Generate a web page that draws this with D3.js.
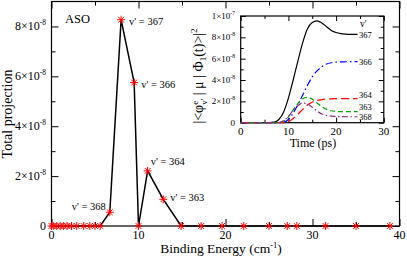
<!DOCTYPE html>
<html>
<head>
<meta charset="utf-8">
<script src="https://cdn.jsdelivr.net/npm/d3@7"></script>
<style>
  body { margin: 0; background: #fff; }
  svg { display: block; }
  svg text { font-family: "Liberation Serif", "DejaVu Serif", serif; }
</style>
</head>
<body>
<svg id="chart" width="407" height="260" font-family="Liberation Serif, DejaVu Serif, serif"></svg>
<script>
"use strict"

// main panel: total projection vs binding energy
const bindingEnergy = [0, 0.2, 0.6, 1.0, 1.4, 1.8, 2.3, 2.9, 3.7, 4.4, 5.0, 5.6,
    6.7, 8.0, 9.5, 10.0, 11.05, 12.85, 14.9,
    17.2, 19.6, 22.1, 25.0, 27.1, 28.2, 31.5, 35.0, 38.9];
const projection = [0, 0, 0, 0, 0, 0, 0, 0, 0, 0, 0, 0,
    0.55e-8, 8.27e-8, 5.75e-8, 0, 2.21e-8, 1.07e-8, 0,
    0, 0, 0, 0, 0, 0, 0, 0, 0];
const levelLabels = ["v' = 368", "v' = 367", "v' = 366", "v' = 364", "v' = 363"];
const labelledPoints = [12, 13, 14, 16, 17];

const mainXTicks = [0, 10, 20, 30, 40];
const mainYTicks = [0, 2e-8, 4e-8, 6e-8, 8e-8];

// inset: time evolution of each level
const timePs = [0, 5, 7, 8, 9, 10, 11, 12, 13, 14, 15, 16, 17, 18, 19, 20, 21, 22, 23, 24.5];
const pop367 = [0, 0, 0.05, 0.3, 1.0, 2.3, 4.0, 5.8, 7.5, 8.8, 9.4, 9.55, 9.35, 9.0, 8.65, 8.45, 8.35, 8.3, 8.28, 8.28];
const pop366 = [0, 0, 0, 0, 0.05, 0.3, 0.9, 1.7, 2.6, 3.5, 4.3, 4.85, 5.25, 5.5, 5.62, 5.68, 5.7, 5.71, 5.72, 5.72];
const pop364 = [0, 0, 0, 0, 0, 0.1, 0.4, 0.8, 1.25, 1.65, 1.92, 2.08, 2.17, 2.22, 2.24, 2.25, 2.25, 2.25, 2.25, 2.25];
const pop363 = [0, 0, 0, 0.02, 0.15, 0.55, 1.2, 1.8, 2.25, 2.37, 2.2, 1.85, 1.5, 1.25, 1.12, 1.06, 1.04, 1.03, 1.03, 1.03];
const pop368 = [0, 0, 0, 0.02, 0.18, 0.6, 1.15, 1.6, 1.85, 1.75, 1.45, 1.1, 0.82, 0.68, 0.61, 0.58, 0.57, 0.56, 0.56, 0.56];
const insetSeries = ["367", "366", "364", "363", "368"];
const insetColors = ["#000000", "#0000ff", "#ff0000", "#00a000", "#8b2a7e"];
const insetDashes = ["none", "7,3,1.5,3", "8,4", "5,3", "6,2.5,1.5,2.5"];

const insetXTicks = [0, 10, 20, 30];
const insetYTicks = [0, 2e-8, 4e-8, 6e-8, 8e-8, 1e-7];

const svg = d3.select("#chart");

/* draw "a×10^b" labels with a real superscript */
function sciLabel(sel, v, fs) {
    if (v === 0) {
        sel.text("0");
        return;
    }
    let e = Math.floor(Math.log10(v) + 1e-9);
    let m = Math.round(v / Math.pow(10, e));
    sel.append("tspan").text(m + "\u00d710");
    sel.append("tspan").attr("dy", -fs * 0.45).style("font-size", (fs * 0.62) + "px").text("-" + Math.abs(e));
}

/* a frame with inward ticks on all four sides */
function frame(g, x, y, xMajor, xMinor, yMajor, yMinor, major, minor) {
    const [x0, x1] = x.range();
    const [y0, y1] = y.range();
    g.append("rect")
        .attr("x", x0).attr("y", y1)
        .attr("width", x1 - x0).attr("height", y0 - y1)
        .attr("fill", "none").attr("stroke", "#000").attr("stroke-width", 1.2);

    let addTicks = function (vals, len, axisFn, pos) {
        g.append("g")
            .attr("transform", pos)
            .call(axisFn.tickValues(vals).tickSize(-len).tickFormat(""))
            .call(s => s.select(".domain").remove())
            .selectAll("line").attr("stroke-width", 1);
    };
    [[xMajor, major], [xMinor, minor]].forEach(([v, l]) => {
        addTicks(v, l, d3.axisBottom(x), `translate(0,${y0})`);
        addTicks(v, l, d3.axisTop(x), `translate(0,${y1})`);
    });
    [[yMajor, major], [yMinor, minor]].forEach(([v, l]) => {
        addTicks(v, l, d3.axisLeft(y), `translate(${x0},0)`);
        addTicks(v, l, d3.axisRight(y), `translate(${x1},0)`);
    });
}

// ---------- main panel ----------
let x = d3.scaleLinear().domain([0, 40]).range([51.5, 399.5]);
let y = d3.scaleLinear().domain([0, 9e-8]).range([226, 1.5]);

let main = svg.append("g");
frame(main, x, y, mainXTicks, [5, 15, 25, 35],
    mainYTicks, [1e-8, 3e-8, 5e-8, 7e-8], 7, 4);

main.selectAll(".xlab").data(mainXTicks).enter().append("text")
    .attr("x", d => x(d)).attr("y", 238.5)
    .attr("text-anchor", "middle").style("font-size", "12px")
    .text(d => d);

main.selectAll(".ylab").data(mainYTicks).enter().append("text")
    .attr("x", 46).attr("y", d => y(d) + 4)
    .attr("text-anchor", "end").style("font-size", "12px")
    .each(function (d) { sciLabel(d3.select(this), d, 12); });

let xt = main.append("text")
    .attr("x", 221).attr("y", 253)
    .attr("text-anchor", "middle").style("font-size", "13.5px");
xt.append("tspan").text("Binding Energy (cm");
xt.append("tspan").attr("dy", -5).style("font-size", "8.5px").text("-1");
xt.append("tspan").attr("dy", 5).text(")");

main.append("text")
    .attr("transform", "translate(12,114) rotate(-90)")
    .attr("text-anchor", "middle").style("font-size", "14px")
    .text("Total projection");

main.append("text")
    .attr("x", 65).attr("y", 23).style("font-size", "12.5px")
    .text("ASO");

let pts = bindingEnergy.map((d, i) => [d, projection[i]]);

main.append("path")
    .datum(pts)
    .attr("fill", "none").attr("stroke", "#000").attr("stroke-width", 1.5)
    .attr("d", d3.line().x(d => x(d[0])).y(d => y(d[1])));

// grace style star: plus and cross
let star = "M-4,0H4M0,-4V4M-2.9,-2.9L2.9,2.9M-2.9,2.9L2.9,-2.9";
main.selectAll(".star").data(pts).enter().append("path")
    .attr("transform", d => `translate(${x(d[0])},${y(d[1])})`)
    .attr("d", star)
    .attr("stroke", "#ff0000").attr("stroke-width", 1).attr("fill", "none");

// label offsets relative to their points
const labelOffsets = [[-38, -2], [8, 5], [7, 5], [3, -6], [7, 2]];
labelledPoints.forEach((idx, i) => {
    main.append("text")
        .attr("x", x(bindingEnergy[idx]) + labelOffsets[i][0])
        .attr("y", y(projection[idx]) + labelOffsets[i][1])
        .style("font-size", "10.5px")
        .text(levelLabels[i]);
});

// ---------- inset ----------
let ix = d3.scaleLinear().domain([0, 30]).range([240.7, 383.8]);
let iy = d3.scaleLinear().domain([0, 1e-7]).range([122.7, 16]);

let inset = svg.append("g");
inset.append("rect")
    .attr("x", 240.7).attr("y", 16).attr("width", 143.1).attr("height", 106.7)
    .attr("fill", "#fff");
frame(inset, ix, iy, insetXTicks, [5, 15, 25],
    insetYTicks, [1e-8, 3e-8, 5e-8, 7e-8, 9e-8], 5, 3);

inset.selectAll(".ixlab").data(insetXTicks).enter().append("text")
    .attr("x", d => ix(d)).attr("y", 135)
    .attr("text-anchor", "middle").style("font-size", "11px")
    .text(d => d);

inset.selectAll(".iylab").data(insetYTicks).enter().append("text")
    .attr("x", 235).attr("y", d => iy(d) + 3)
    .attr("text-anchor", "end").style("font-size", "9px")
    .each(function (d) { sciLabel(d3.select(this), d, 9); });

inset.append("text")
    .attr("x", 313).attr("y", 147)
    .attr("text-anchor", "middle").style("font-size", "12px")
    .text("Time (ps)");

let iyt = inset.append("text")
    .attr("transform", "translate(203,76) rotate(-90)")
    .attr("text-anchor", "middle").style("font-size", "14px");
iyt.append("tspan").text("|<\u03c6");
iyt.append("tspan").attr("dy", -5).style("font-size", "9px").text("e");
iyt.append("tspan").attr("dx", -4).attr("dy", 9).style("font-size", "9px").text("v'");
iyt.append("tspan").attr("dy", -4).text(" | \u03bc | \u03a6");
iyt.append("tspan").attr("dy", 3).style("font-size", "9px").text("1");
iyt.append("tspan").attr("dy", -3).text("(t)>|");
iyt.append("tspan").attr("dy", -6).style("font-size", "9px").text("2");

let pops = [pop367, pop366, pop364, pop363, pop368];
let line = d3.line().curve(d3.curveMonotoneX)
    .x(d => ix(d[0])).y(d => iy(d[1] * 1e-8));

pops.forEach((p, i) => {
    inset.append("path")
        .datum(timePs.map((t, j) => [t, p[j]]))
        .attr("fill", "none")
        .attr("stroke", insetColors[i])
        .attr("stroke-width", 1.2)
        .attr("stroke-dasharray", insetDashes[i])
        .attr("d", line);
});

// legend labels at the line ends
const legendY = [34.5, 62, 95, 106.5, 117];
inset.append("text").attr("x", 360).attr("y", 27).style("font-size", "9.5px").text("v'");
insetSeries.forEach((s, i) => {
    inset.append("text")
        .attr("x", 359).attr("y", legendY[i] + 3)
        .style("font-size", "8.5px")
        .text(s);
});
</script>
</body>
</html>
